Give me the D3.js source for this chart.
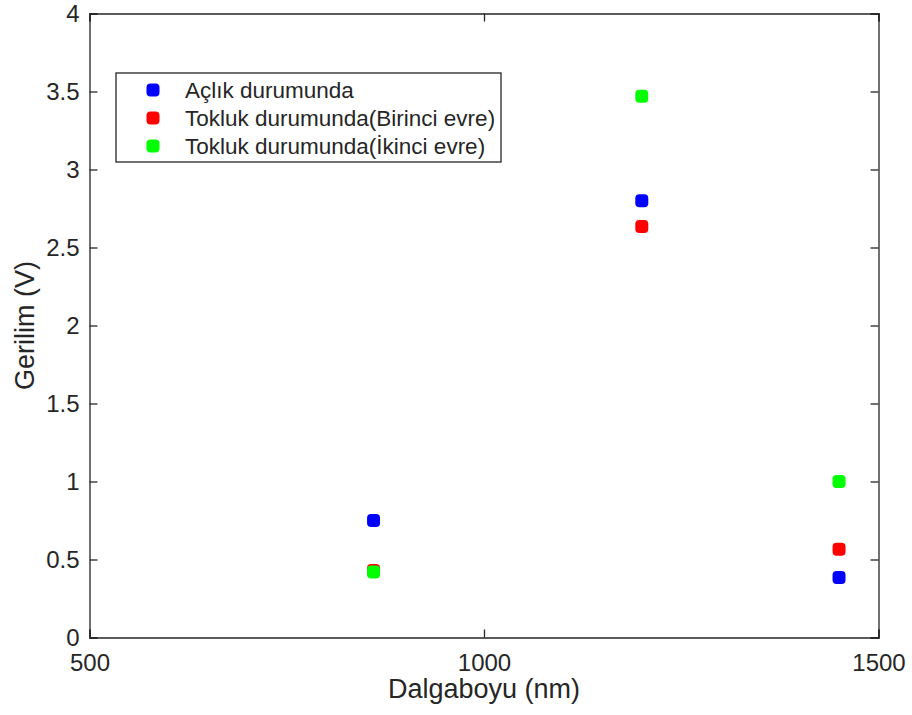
<!DOCTYPE html>
<html>
<head>
<meta charset="utf-8">
<script src="https://cdn.jsdelivr.net/npm/d3@7"></script>
<style>
	body { margin: 0; background: #fff; }
	text { font-family: "Liberation Sans", Arial, sans-serif; fill: #262626; }
</style>
</head>
<body>
<svg id="chart" width="912" height="715"></svg>
<script>
// data
var wavelengths = [860, 1200, 1450];
var seriesNames = ["Açlık durumunda", "Tokluk durumunda(Birinci evre)", "Tokluk durumunda(İkinci evre)"];
var seriesColors = ["#0000ff", "#ff0000", "#00ff00"];
var aclik = [0.75, 2.80, 0.385];
var birinci = [0.43, 2.635, 0.565];
var ikinci = [0.42, 3.47, 1.0];
var xTicks = [500, 1000, 1500];
var yTicks = [0, 0.5, 1, 1.5, 2, 2.5, 3, 3.5, 4];

var svg = d3.select("#chart");
var plotL = 89.5, plotR = 878.5, plotT = 13.5, plotB = 637.5;

var x = d3.scaleLinear().domain([500, 1500]).range([plotL, plotR]);
var y = d3.scaleLinear().domain([0, 4]).range([plotB, plotT]);

// ticks inside the box, MATLAB style
svg.append("g")
	.attr("transform", "translate(0," + plotB + ")")
	.call(d3.axisBottom(x).tickValues(xTicks).tickSize(-8).tickPadding(16).tickFormat(d3.format("d")))
	.call(styleAxis);
svg.append("g")
	.attr("transform", "translate(0," + plotT + ")")
	.call(d3.axisTop(x).tickValues(xTicks).tickSize(-8).tickFormat(""))
	.call(styleAxis);
svg.append("g")
	.attr("transform", "translate(" + plotL + ",0)")
	.call(d3.axisLeft(y).tickValues(yTicks).tickSize(-8).tickPadding(10).tickFormat(d3.format("")))
	.call(styleAxis);
svg.append("g")
	.attr("transform", "translate(" + plotR + ",0)")
	.call(d3.axisRight(y).tickValues(yTicks).tickSize(-8).tickFormat(""))
	.call(styleAxis);

function styleAxis(g) {
	g.select(".domain").attr("stroke", "#262626").attr("stroke-width", 1.3);
	g.selectAll(".tick line").attr("stroke", "#262626").attr("stroke-width", 1.3);
	g.selectAll(".tick text").style("font-size", "24px").attr("fill", "#262626");
}

// axis titles
svg.append("text")
	.attr("x", (plotL + plotR) / 2).attr("y", 698)
	.attr("text-anchor", "middle")
	.style("font-size", "27px")
	.text("Dalgaboyu (nm)");
svg.append("text")
	.attr("transform", "translate(34," + (plotT + plotB) / 2 + ") rotate(-90)")
	.attr("text-anchor", "middle")
	.style("font-size", "27px")
	.text("Gerilim (V)");

// points
var series = [aclik, birinci, ikinci];
series.forEach(function(vals, i) {
	svg.append("g").selectAll("rect")
		.data(vals)
		.join("rect")
		.attr("x", function(d, j) { return x(wavelengths[j]) - 6.5; })
		.attr("y", function(d) { return y(d) - 6.5; })
		.attr("width", 13).attr("height", 13)
		.attr("rx", 4).attr("ry", 4)
		.attr("fill", seriesColors[i]);
});

// legend
var leg = svg.append("g").attr("transform", "translate(116,73)");
leg.append("rect")
	.attr("width", 385).attr("height", 89)
	.attr("fill", "#fff").attr("stroke", "#262626").attr("stroke-width", 1.3);
seriesNames.forEach(function(name, i) {
	leg.append("rect")
		.attr("x", 30.5).attr("y", 10.5 + i * 28)
		.attr("width", 13).attr("height", 13)
		.attr("rx", 4).attr("ry", 4)
		.attr("fill", seriesColors[i]);
	leg.append("text")
		.attr("x", 69).attr("y", 17 + i * 28)
		.attr("dy", "0.36em")
		.style("font-size", "22.5px")
		.text(name);
});
</script>
</body>
</html>
